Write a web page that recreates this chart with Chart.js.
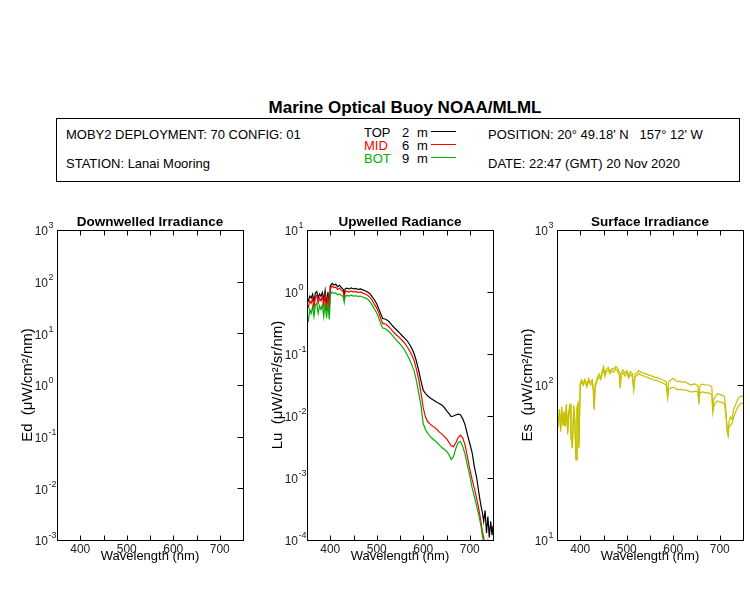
<!DOCTYPE html>
<html>
<head>
<meta charset="utf-8">
<script src="https://cdn.jsdelivr.net/npm/chart.js@4.4.0/dist/chart.umd.min.js"></script>
<style>
  body { margin: 0; width: 750px; height: 600px; background: #fff; position: relative; overflow: hidden;
         font-family: 'Liberation Sans', Arial, sans-serif; color: #000; }
  .txt { position: absolute; white-space: pre; font-size: 13px; line-height: 15px; }
  .title { position: absolute; left: 0; width: 810px; top: 98px; text-align: center;
           font-weight: bold; font-size: 17px; line-height: 20px; }
  .box { position: absolute; left: 56px; top: 118px; width: 684px; height: 64px;
         border: 1px solid #000; box-sizing: border-box; }
  .panel { position: absolute; top: 200px; width: 250px; height: 400px; }
  .lgline { position: absolute; width: 25px; height: 0; border-top: 1px solid; }
</style>
</head>
<body>
<div class="title">Marine Optical Buoy NOAA/MLML</div>
<div class="box"></div>
<div class="txt" style="left:66px; top:127px">MOBY2 DEPLOYMENT: 70 CONFIG: 01</div>
<div class="txt" style="left:66px; top:156px">STATION: Lanai Mooring</div>
<div class="txt" style="left:488px; top:127px">POSITION: 20° 49.18' N   157° 12' W</div>
<div class="txt" style="left:488px; top:156px">DATE: 22:47 (GMT) 20 Nov 2020</div>
<div id="legend"></div>
<div class="panel" style="left:0px"><canvas id="edChart" width="250" height="400"></canvas></div>
<div class="panel" style="left:250px"><canvas id="luChart" width="250" height="400"></canvas></div>
<div class="panel" style="left:500px"><canvas id="esChart" width="250" height="400"></canvas></div>
<script>
// sensor depths (legend)
const depthNames = ['TOP', 'MID', 'BOT'];
const depthMeters = [2, 6, 9];
const depthColors = ['#000000', '#ff0000', '#00b000'];

// Upwelled radiance Lu, uW/cm2/sr/nm
const luWavelength = [
  350, 353, 356, 359, 362, 365, 368, 371, 374, 377,
  380, 383, 386, 389, 392, 395, 398, 400, 404, 408,
  412, 416, 420, 424, 428, 430, 432, 436, 440, 445,
  450, 455, 460, 465, 470, 475, 480, 485, 490, 495,
  500, 505, 510, 513, 516, 520, 525, 530, 535, 540,
  545, 550, 555, 560, 565, 570, 575, 580, 585, 590,
  595, 600, 605, 610, 615, 620, 625, 630, 635, 640,
  645, 650, 655, 660, 665, 670, 675, 680, 685, 690,
  695, 700, 705, 710, 715, 720, 724, 727, 730, 733,
  736, 739, 742, 745, 748, 750
];
const luTop = [
  0.78, 0.72, 0.86, 0.80, 0.92, 0.70, 0.96, 1.02, 0.80, 0.93,
  0.85, 0.98, 0.74, 1.06, 0.62, 1.00, 0.55, 1.25, 1.38, 1.30,
  1.33, 1.22, 1.28, 1.18, 1.10, 0.88, 1.12, 1.15, 1.12, 1.16,
  1.12, 1.14, 1.10, 1.12, 1.08, 1.05, 1.00, 0.95, 0.84, 0.75,
  0.64, 0.52, 0.42, 0.37, 0.37, 0.36, 0.34, 0.31, 0.28, 0.255,
  0.235, 0.215, 0.195, 0.18, 0.165, 0.145, 0.125, 0.103, 0.078, 0.055,
  0.037, 0.026, 0.023, 0.021, 0.0195, 0.0185, 0.0175, 0.0165, 0.0158, 0.015,
  0.0138, 0.0122, 0.011, 0.0098, 0.0100, 0.0104, 0.0107, 0.0105, 0.0090, 0.0072,
  0.0050, 0.0036, 0.0026, 0.0015, 0.0010, 0.00055, 0.00036, 0.00028, 0.00020, 0.00030,
  0.00013, 0.00024, 0.00011, 0.00020, 0.00012, 0.00017
];
const luMid = [
  0.62, 0.57, 0.72, 0.66, 0.78, 0.55, 0.82, 0.88, 0.66, 0.80,
  0.72, 0.85, 0.60, 0.90, 0.50, 0.86, 0.45, 1.12, 1.25, 1.18,
  1.20, 1.10, 1.15, 1.06, 1.00, 0.78, 1.00, 1.03, 1.00, 1.04,
  1.00, 1.02, 0.98, 1.00, 0.96, 0.93, 0.89, 0.82, 0.74, 0.63,
  0.55, 0.45, 0.35, 0.31, 0.31, 0.30, 0.28, 0.255, 0.23, 0.21,
  0.195, 0.18, 0.165, 0.15, 0.132, 0.115, 0.097, 0.08, 0.058, 0.040,
  0.024, 0.0135, 0.0095, 0.0080, 0.0074, 0.0069, 0.0065, 0.0060, 0.0055, 0.0051,
  0.0047, 0.0043, 0.0038, 0.0033, 0.0032, 0.0037, 0.0045, 0.0049, 0.0044, 0.0034,
  0.0022, 0.0014, 0.00095, 0.00068, 0.00046, 0.00030, 0.00020, 0.00014, 0.00011, 0.00008,
  0.00006, 0.00009, 0.00005, 0.00008, 0.00005, 0.00006
];
const luBot = [
  0.42, 0.35, 0.52, 0.45, 0.58, 0.40, 0.62, 0.66, 0.45, 0.60,
  0.52, 0.62, 0.40, 0.66, 0.38, 0.62, 0.36, 0.90, 1.00, 0.95,
  0.97, 0.90, 0.93, 0.88, 0.85, 0.68, 0.85, 0.88, 0.86, 0.89,
  0.86, 0.87, 0.85, 0.86, 0.83, 0.80, 0.77, 0.70, 0.62, 0.53,
  0.46, 0.37, 0.29, 0.26, 0.26, 0.25, 0.235, 0.215, 0.195, 0.175,
  0.16, 0.145, 0.13, 0.115, 0.098, 0.083, 0.068, 0.055, 0.038, 0.024,
  0.015, 0.0075, 0.0060, 0.0052, 0.0047, 0.0043, 0.0040, 0.0037, 0.0034, 0.0031,
  0.0029, 0.0027, 0.0024, 0.0020, 0.0022, 0.0030, 0.0037, 0.0039, 0.0032, 0.0024,
  0.0016, 0.0011, 0.00070, 0.00050, 0.00035, 0.00024, 0.00017, 0.00012, 0.00009, 0.00006,
  0.00005, 0.00008, 0.00004, 0.00007, 0.00004, 0.00005
];

// Surface irradiance Es, uW/cm2/nm (two scans)
const esWavelength = [
  350, 353, 355, 358, 360, 363, 365, 368, 370, 373,
  375, 378, 380, 383, 386, 388, 391, 393, 395, 397,
  400, 403, 406, 410, 414, 418, 422, 426, 428, 430,
  432, 436, 440, 444, 448, 450, 453, 456, 460, 464,
  468, 472, 476, 480, 484, 486, 488, 492, 496, 500,
  504, 508, 512, 515, 518, 522, 526, 530, 535, 540,
  545, 550, 555, 560, 565, 570, 575, 580, 585, 588,
  590, 595, 600, 605, 610, 615, 620, 625, 630, 635,
  640, 645, 650, 653, 655, 657, 660, 665, 670, 675,
  680, 683, 685, 687, 690, 695, 700, 705, 710, 713,
  716, 718, 720, 723, 726, 730, 735, 740, 745, 750
];
const esA = [
  66, 58, 70, 52, 72, 57, 68, 56, 75, 50,
  66, 76, 48, 40, 74, 62, 33, 72, 76, 40,
  103, 108, 102, 109, 100, 110, 104, 108, 95, 71,
  100, 110, 118, 112, 125, 132, 118, 126, 130, 122,
  128, 126, 132, 128, 122, 98, 120, 125, 119, 124,
  116, 122, 118, 96, 118, 120, 124, 121, 120, 118,
  117, 115, 114, 112, 112, 110, 109, 107, 105, 84,
  104, 108, 110, 107, 105, 106, 104, 105, 103, 101,
  100, 102, 100, 100, 77, 98, 101, 101, 100, 100,
  99, 97, 68, 80, 84, 88, 87, 86, 84, 70,
  52, 48, 58, 62, 60, 70, 76, 82, 85, 84
];
const esB = [
  64, 56, 67, 50, 70, 55, 66, 54, 73, 48,
  64, 74, 46, 39, 72, 60, 33, 70, 74, 39,
  100, 105, 99, 106, 97, 106, 100, 104, 92, 69,
  96, 106, 113, 108, 120, 126, 113, 121, 125, 118,
  123, 121, 127, 123, 117, 95, 115, 120, 114, 119,
  111, 117, 113, 92, 113, 115, 119, 116, 115, 113,
  112, 110, 109, 107, 107, 105, 104, 102, 100, 82,
  93, 96, 97, 95, 93, 94, 93, 93, 92, 91,
  90, 91, 91, 90, 75, 88, 90, 90, 89, 89,
  88, 86, 66, 72, 76, 79, 78, 77, 76, 65,
  50, 47, 54, 55, 56, 62, 68, 73, 76, 76
];
const esColor = '#c8c000';

Chart.defaults.font.family = "'Liberation Sans', Arial, sans-serif";
Chart.defaults.color = '#222';

// legend rows in the header box
const legend = document.getElementById('legend');
depthNames.forEach((name, i) => {
  const top = 125 + i * 13;
  legend.innerHTML +=
    `<div class="txt" style="left:364px; top:${top}px; color:${depthColors[i]}">${name}</div>` +
    `<div class="txt" style="left:402px; top:${top}px">${depthMeters[i]}</div>` +
    `<div class="txt" style="left:417px; top:${top}px">m</div>` +
    `<div class="lgline" style="left:431px; top:${top + 6}px; border-color:${depthColors[i]}"></div>`;
});

function toPoints(xs, ys) {
  return xs.map((x, i) => ({ x: x, y: ys[i] }));
}

// box, inward ticks, 10^n labels and the panel title
const framePlugin = {
  id: 'frame',
  afterDraw(chart, args, opts) {
    const { ctx, chartArea: a, scales: { x, y } } = chart;
    ctx.save();
    ctx.strokeStyle = '#000';
    ctx.lineWidth = 1;
    const L = Math.round(a.left) + 0.5, R = Math.round(a.right) + 0.5;
    const T = Math.round(a.top) + 0.5, B = Math.round(a.bottom) + 0.5;
    ctx.strokeRect(L, T, R - L, B - T);
    ctx.beginPath();
    x.ticks.forEach(t => {
      const px = Math.round(x.getPixelForValue(t.value)) + 0.5;
      ctx.moveTo(px, B); ctx.lineTo(px, B - 5);
      ctx.moveTo(px, T); ctx.lineTo(px, T + 5);
    });
    y.ticks.forEach(t => {
      const py = Math.round(y.getPixelForValue(t.value)) + 0.5;
      ctx.moveTo(R, py); ctx.lineTo(R - 6, py);
    });
    ctx.stroke();

    // y tick labels as 10 with superscript exponent
    ctx.fillStyle = '#222';
    ctx.textBaseline = 'middle';
    y.ticks.forEach(t => {
      const py = y.getPixelForValue(t.value);
      const exp = String(Math.round(Math.log10(t.value)));
      ctx.font = "12px 'Liberation Sans', Arial, sans-serif";
      ctx.textAlign = 'right';
      ctx.fillText('10', a.left - 9, py + 2);
      ctx.font = "9px 'Liberation Sans', Arial, sans-serif";
      ctx.textAlign = 'left';
      ctx.fillText(exp, a.left - 8.5, py - 4);
    });

    ctx.fillStyle = '#000';
    ctx.font = "bold 13.5px 'Liberation Sans', Arial, sans-serif";
    ctx.textAlign = 'center';
    ctx.fillText(opts.text, (a.left + a.right) / 2, a.top - 8);
    ctx.restore();
  }
};

function makePanel(id, title, yTitle, yMin, yMax, datasets) {
  return new Chart(document.getElementById(id), {
    type: 'line',
    data: { datasets: datasets },
    options: {
      responsive: false,
      animation: false,
      layout: { padding: { top: 30, right: 7, left: 0, bottom: 0 } },
      elements: { point: { radius: 0 }, line: { borderWidth: 1.2, tension: 0 } },
      plugins: { legend: { display: false }, tooltip: { enabled: false }, frame: { text: title } },
      scales: {
        x: {
          type: 'linear', min: 350, max: 750,
          ticks: {
            stepSize: 50, autoSkip: false, maxRotation: 0, padding: 2, color: '#222',
            font: { size: 12 },
            callback: v => (v % 100 === 0 ? String(v) : '')
          },
          grid: { display: false, drawTicks: false },
          border: { display: false },
          title: { display: true, text: 'Wavelength (nm)', color: '#000', font: { size: 13 },
                   padding: { top: 0, bottom: 36 } },
          afterFit: s => { s.height = 60; }
        },
        y: {
          type: 'logarithmic', min: yMin, max: yMax,
          afterBuildTicks: s => {
            const ticks = [];
            for (let e = Math.round(Math.log10(yMin)); e <= Math.round(Math.log10(yMax)); e++) {
              ticks.push({ value: Math.pow(10, e) });
            }
            s.ticks = ticks;
          },
          ticks: { display: false },
          grid: { display: false, drawTicks: false },
          border: { display: false },
          title: { display: true, text: yTitle, color: '#000', font: { size: 15 },
                   padding: { top: 19, bottom: 0 } },
          afterFit: s => { s.width = 57; }
        }
      }
    },
    plugins: [framePlugin]
  });
}

makePanel('edChart', 'Downwelled Irradiance', 'Ed  (\u03bcW/cm\u00b2/nm)', 1e-3, 1e3, []);

makePanel('luChart', 'Upwelled Radiance', 'Lu  (\u03bcW/cm\u00b2/sr/nm)', 1e-4, 1e1, [
  { data: toPoints(luWavelength, luBot), borderColor: depthColors[2] },
  { data: toPoints(luWavelength, luMid), borderColor: depthColors[1] },
  { data: toPoints(luWavelength, luTop), borderColor: depthColors[0] }
]);

makePanel('esChart', 'Surface Irradiance', 'Es  (\u03bcW/cm\u00b2/nm)', 1e1, 1e3, [
  { data: toPoints(esWavelength, esA), borderColor: esColor },
  { data: toPoints(esWavelength, esB), borderColor: esColor }
]);
</script>
</body>
</html>
